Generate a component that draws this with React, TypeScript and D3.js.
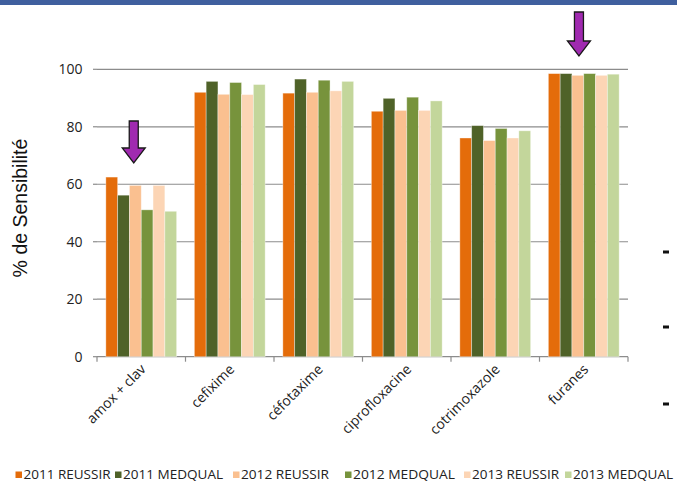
import React from "react";
import * as d3 from "d3";

const categories = ["amox + clav", "cefixime", "céfotaxime", "ciprofloxacine", "cotrimoxazole", "furanes"];
const seriesNames = ["2011 REUSSIR", "2011 MEDQUAL", "2012 REUSSIR", "2012 MEDQUAL", "2013 REUSSIR", "2013 MEDQUAL"];
const reussir2011 = [62.5, 92.0, 91.7, 85.4, 76.1, 98.5];
const medqual2011 = [56.2, 95.8, 96.6, 89.9, 80.4, 98.5];
const reussir2012 = [59.6, 91.3, 92.0, 85.7, 75.2, 97.9];
const medqual2012 = [51.1, 95.4, 96.2, 90.3, 79.4, 98.5];
const reussir2013 = [59.6, 91.2, 92.5, 85.7, 76.1, 97.9];
const medqual2013 = [50.6, 94.7, 95.8, 89.0, 78.6, 98.3];
const yTicks = [0, 20, 40, 60, 80, 100];
const colors = ["#E46C0A", "#4F6228", "#FAC090", "#77933C", "#FCD5B5", "#C3D69B"];
// categories that have a highlight arrow above them
const arrowCats = ["amox + clav", "furanes"];

const series = [reussir2011, medqual2011, reussir2012, medqual2012, reussir2013, medqual2013];

const W = 677, H = 483;
const X0 = 97, X1 = 628, Y0 = 356.7, Y1 = 69.3;
const legendX = [15.5, 115, 233, 345, 464, 565];
const legendTextW = [87, 100, 88, 102, 87, 100];
const arrowLayout = [
  { top: 121, tip: 163, dx: -7.5 },
  { top: 12, tip: 56, dx: -4.8 },
];

export default function App() {
  const x = d3.scaleBand<string>().domain(categories).range([X0, X1]).paddingInner(0).paddingOuter(0);
  const xi = d3.scaleBand<string>().domain(seriesNames).range([0, x.bandwidth()]).paddingInner(0).paddingOuter(0.75);
  const y = d3.scaleLinear().domain([0, 100]).range([Y0, Y1]);
  const font = "'Open Sans', sans-serif";
  const boundaries = [...categories.map((c) => x(c) as number), X1];

  const arrowPath = (cx: number, top: number, tip: number) => {
    const sw = 4.5, hw = 11.5, hh = 15;
    const hs = tip - hh;
    return `M${cx - sw},${top} L${cx + sw},${top} L${cx + sw},${hs} L${cx + hw},${hs} L${cx},${tip} L${cx - hw},${hs} L${cx - sw},${hs} Z`;
  };

  return (
    <svg width={W} height={H} style={{ position: "absolute", left: 0, top: 0, background: "#fff" }}>
      <rect x={0} y={0} width={W} height={5} fill="#3F5F9E" />
      {/* gridlines */}
      {yTicks.map((t) => (
        <g key={t}>
          <line x1={X0} x2={X1} y1={y(t)} y2={y(t)} stroke="#8C8C8C" strokeWidth={1.2} />
          <line x1={X0 - 4} x2={X0} y1={y(t)} y2={y(t)} stroke="#8C8C8C" strokeWidth={1.2} />
          <text x={82.5} y={y(t)} dy="0.36em" textAnchor="end" fontFamily={font} fontSize={14} fill="#222">
            {t}
          </text>
        </g>
      ))}
      {boundaries.map((b, i) => (
        <line key={i} x1={b} x2={b} y1={Y0} y2={Y0 + 5} stroke="#8C8C8C" strokeWidth={1.2} />
      ))}
      {/* bars */}
      {categories.map((c, ci) => (
        <g key={c} transform={`translate(${x(c)},0)`}>
          {series.map((s, si) => (
            <rect
              key={si}
              x={xi(seriesNames[si])}
              y={y(s[ci])}
              width={xi.bandwidth()}
              height={Y0 - y(s[ci])}
              fill={colors[si]}
              stroke="#ffffff"
              strokeOpacity={0.45}
              strokeWidth={0.8}
            />
          ))}
        </g>
      ))}
      {/* x labels */}
      {categories.map((c) => {
        const cx = (x(c) as number) + x.bandwidth() / 2 + 2;
        return (
          <text
            key={c}
            transform={`translate(${cx},${Y0 + 10}) rotate(-45)`}
            textAnchor="end"
            dy="0.35em"
            fontFamily={font}
            fontSize={14}
            fill="#222"
          >
            {c}
          </text>
        );
      })}
      {/* y title */}
      <text
        transform={`translate(27,${(Y0 + Y1) / 2 - 5}) rotate(-90)`}
        textAnchor="middle"
        fontFamily="'Liberation Sans', Arial, sans-serif"
        fontSize={19.5}
        fill="#111"
      >
        % de Sensibilité
      </text>
      {/* arrows */}
      {arrowCats.map((c, i) => (
        <path
          key={c}
          d={arrowPath((x(c) as number) + x.bandwidth() / 2 + arrowLayout[i].dx, arrowLayout[i].top, arrowLayout[i].tip)}
          fill="#A02AB0"
          stroke="#1a1a1a"
          strokeWidth={1.3}
          strokeLinejoin="miter"
        />
      ))}
      {/* bullet dashes */}
      {[252, 327, 404].map((yy) => (
        <rect key={yy} x={663} y={yy - 1.5} width={6} height={3} fill="#111" />
      ))}
      {/* legend */}
      {seriesNames.map((n, i) => (
        <g key={n} transform={`translate(${legendX[i]},0)`}>
          <rect x={0} y={471.5} width={6.5} height={6.5} fill={colors[i]} />
          <text
            x={8}
            y={479}
            fontFamily={font}
            fontSize={12.5}
            fill="#222"
            textLength={legendTextW[i]}
            lengthAdjust="spacingAndGlyphs"
          >
            {n}
          </text>
        </g>
      ))}
    </svg>
  );
}
